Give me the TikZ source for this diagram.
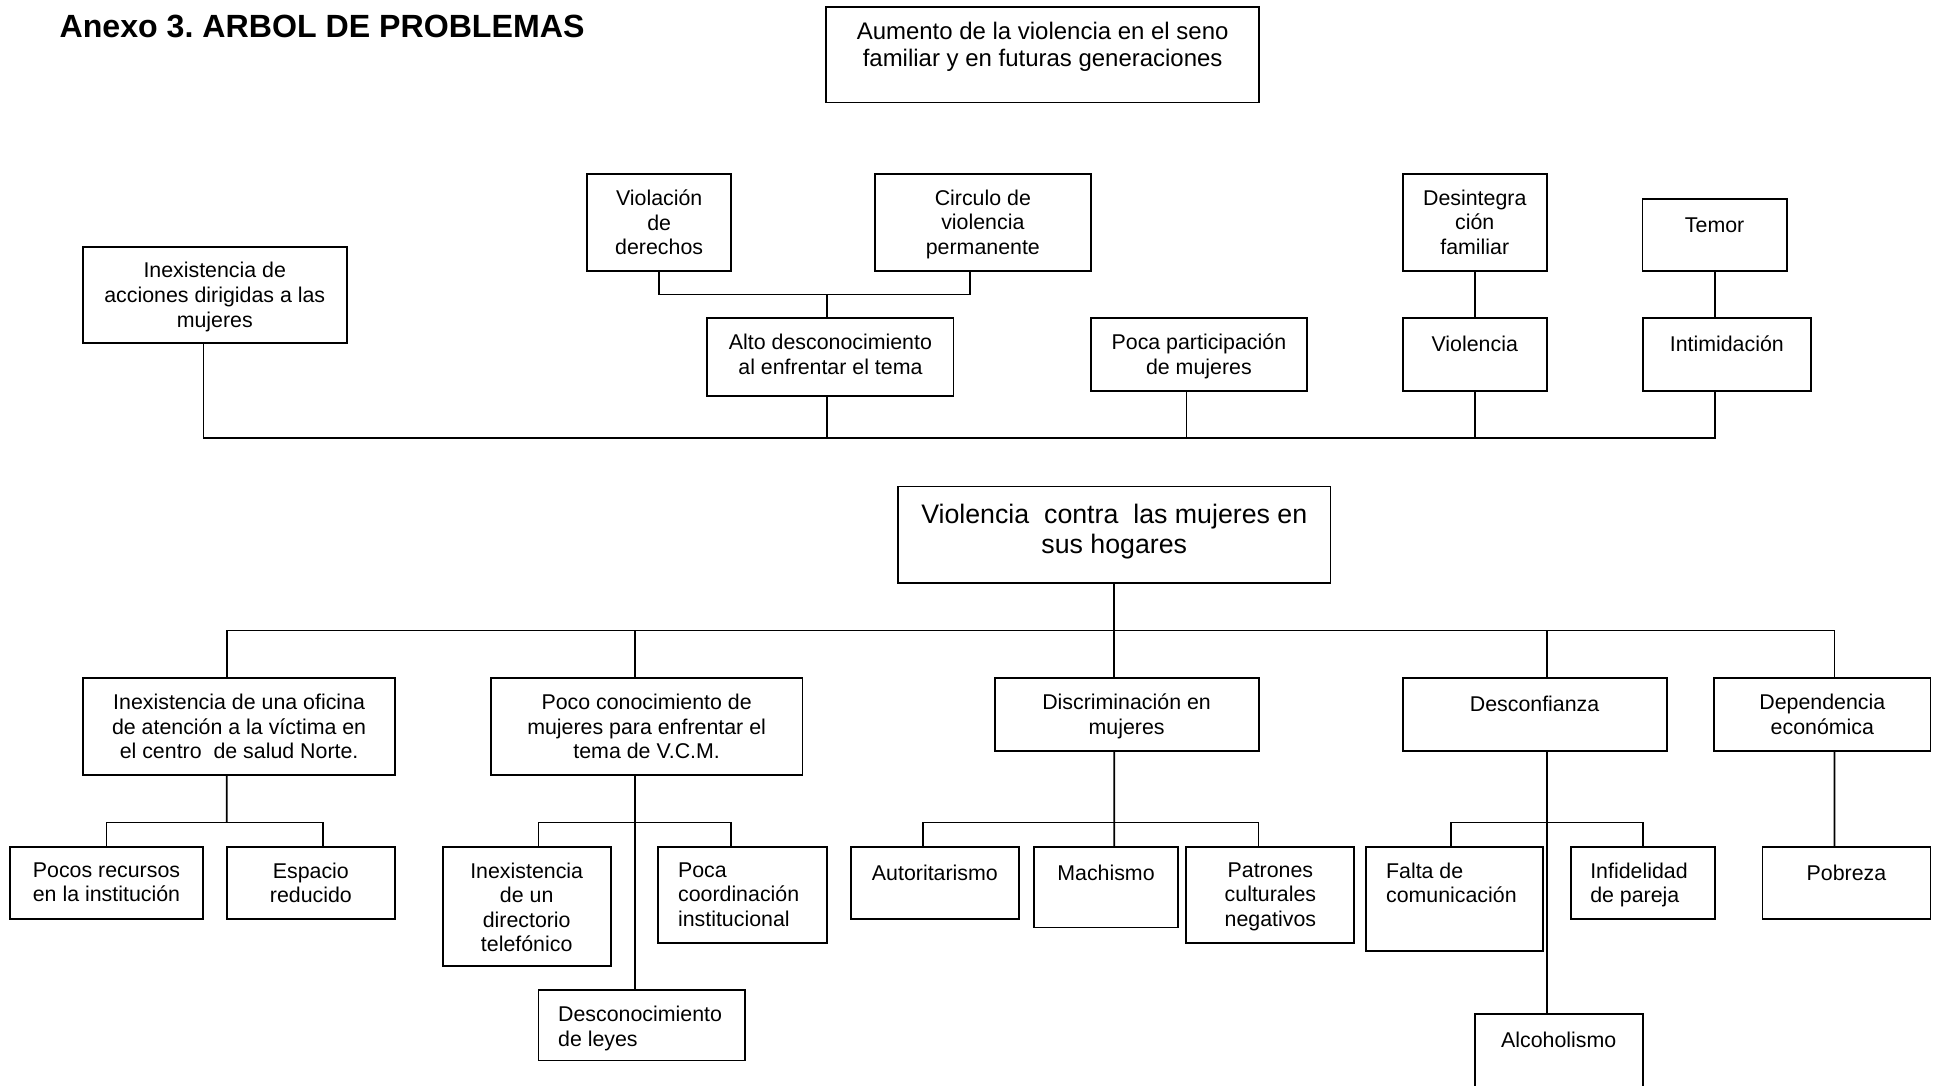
\documentclass[tikz,border=0pt]{standalone}
\usepackage{fontspec}
\setmainfont{Liberation Sans}
\frenchspacing
\tikzset{
  caja/.style={draw,rectangle,line width=1.1pt,inner sep=0pt},
  linea/.style={line width=1pt},
  textobase/.style={anchor=north,align=center,inner sep=0pt,execute at begin node={\rule{0pt}{0.83em}}},
  texto/.style={textobase,yshift=-0.33cm,font=\fontsize{12.3}{14.2}\selectfont},
  textoizq/.style={texto,anchor=north west,align=left,xshift=0.41cm},
  textomedio/.style={textobase,yshift=-0.324cm,font=\fontsize{13.8}{15.6}\selectfont},
  textogrande/.style={textobase,yshift=-0.365cm,font=\fontsize{15.4}{17.6}\selectfont},
}

\begin{document}
\begin{tikzpicture}
\useasboundingbox (0,0) rectangle (39.2,-21.975);
\clip (0,0) rectangle (39.2,-21.975);
\node[anchor=base west,inner sep=0pt,font=\fontsize{18.5}{21}\selectfont\bfseries] (titulo) at (1.2,-0.75) {Anexo 3. ARBOL DE PROBLEMAS};
% efectos
\node[caja,minimum width=8.75cm,minimum height=1.94cm] (aumento) at (21.1,-1.105) {};
\node[textomedio] (aumento-t) at (aumento.north) {Aumento de la violencia en el seno\\familiar y en futuras generaciones};
\node[caja,minimum width=2.92cm,minimum height=1.955cm] (violacion) at (13.34,-4.5) {};
\node[texto] (violacion-t) at (violacion.north) {Violación\\de\\derechos};
\node[caja,minimum width=4.37cm,minimum height=1.955cm] (circulo) at (19.89,-4.5) {};
\node[texto] (circulo-t) at (circulo.north) {Circulo de\\violencia\\permanente};
\node[caja,minimum width=2.92cm,minimum height=1.955cm] (desintegra) at (29.845,-4.5) {};
\node[texto] (desintegra-t) at (desintegra.north) {Desintegra\\ción\\familiar};
\node[caja,minimum width=2.92cm,minimum height=1.4575cm] (temor) at (34.70,-4.749) {};
\node[texto] (temor-t) at (temor.north) {Temor};
\node[caja,minimum width=5.34cm,minimum height=1.9425cm] (inexacc) at (4.346,-5.964) {};
\node[texto] (inexacc-t) at (inexacc.north) {Inexistencia de\\acciones dirigidas a las\\mujeres};
\node[caja,minimum width=4.98cm,minimum height=1.565cm] (alto) at (16.806,-7.225) {};
\node[texto] (alto-t) at (alto.north) {Alto desconocimiento\\al enfrentar el tema};
\node[caja,minimum width=4.375cm,minimum height=1.4625cm] (pocapart) at (24.2625,-7.174) {};
\node[texto] (pocapart-t) at (pocapart.north) {Poca participación\\de mujeres};
\node[caja,minimum width=2.92cm,minimum height=1.4625cm] (violencia) at (29.845,-7.174) {};
\node[texto] (violencia-t) at (violencia.north) {Violencia};
\node[caja,minimum width=3.4075cm,minimum height=1.4625cm] (intimida) at (34.946,-7.174) {};
\node[texto] (intimida-t) at (intimida.north) {Intimidación};
\coordinate (nudo1) at (16.73,-5.9575);
\coordinate (barra) at (4.1125,-8.87);
\draw[linea] (violacion.south) |- (nudo1);
\draw[linea] ([xshift=-0.26cm]circulo.south) |- (nudo1);
\draw[linea] (nudo1) -- (nudo1 |- alto.north);
\draw[linea] (desintegra) -- (violencia);
\draw[linea] (temor.south) -- (temor.south |- intimida.north);
\draw[linea] ([xshift=-0.23cm]inexacc.south) |- (barra);
\draw[linea] (nudo1 |- alto.south) |- (barra);
\draw[linea] ([xshift=-0.25cm]pocapart.south) |- (barra);
\draw[linea] (violencia.south) |- (barra);
\draw[linea] (temor.south |- intimida.south) |- (barra);
% problema central
\node[caja,minimum width=8.75cm,minimum height=1.9475cm] (vcm) at (22.55,-10.819) {};
\node[textogrande] (vcm-t) at (vcm.north) {Violencia\ \ contra\ \ las mujeres en\\sus hogares};
% causas
\node[caja,minimum width=6.3075cm,minimum height=1.945cm] (inexofi) at (4.839,-14.7025) {};
\node[texto] (inexofi-t) at (inexofi.north) {Inexistencia de una oficina\\de atención a la víctima en\\el centro\ \ de salud Norte.};
\node[caja,minimum width=6.3075cm,minimum height=1.945cm] (poco) at (13.086,-14.7025) {};
\node[texto] (poco-t) at (poco.north) {Poco conocimiento de\\mujeres para enfrentar el\\tema de V.C.M.};
\node[caja,minimum width=5.3425cm,minimum height=1.47cm] (discrim) at (22.799,-14.465) {};
\node[texto] (discrim-t) at (discrim.north) {Discriminación en\\mujeres};
\node[caja,minimum width=5.3425cm,minimum height=1.47cm] (desconf) at (31.056,-14.465) {};
\node[texto] (desconf-t) at (desconf.north) {Desconfianza};
\node[caja,minimum width=4.375cm,minimum height=1.47cm] (depend) at (36.88,-14.465) {};
\node[texto] (depend-t) at (depend.north) {Dependencia\\económica};
\coordinate (nudo2) at (22.55,-12.76);
\draw[linea] (vcm) -- (nudo2);
\draw[linea] ([xshift=-0.25cm]inexofi.north) |- (nudo2);
\draw[linea] ([xshift=-0.236cm]poco.north) |- (nudo2);
\draw[linea] ([xshift=-0.249cm]discrim.north) |- (nudo2);
\draw[linea] ([xshift=0.249cm]desconf.north) |- (nudo2);
\draw[linea] ([xshift=0.2475cm]depend.north) |- (nudo2);
% subcausas
\node[caja,minimum width=3.89cm,minimum height=1.4525cm] (pocos) at (2.155,-17.864) {};
\node[texto] (pocos-t) at (pocos.north) {Pocos recursos\\en la institución};
\node[caja,minimum width=3.4025cm,minimum height=1.4525cm] (espacio) at (6.291,-17.864) {};
\node[texto] (espacio-t) at (espacio.north) {Espacio\\reducido};
\node[caja,minimum width=3.4025cm,minimum height=2.42cm] (directorio) at (10.659,-18.3475) {};
\node[texto] (directorio-t) at (directorio.north) {Inexistencia\\de un\\directorio\\telefónico};
\node[caja,minimum width=3.4025cm,minimum height=1.9375cm] (coord) at (15.026,-18.106) {};
\node[textoizq] (coord-t) at (coord.north west) {Poca\\coordinación\\institucional};
\node[caja,minimum width=4.1825cm,minimum height=1.42cm] (leyes) at (12.989,-20.7525) {};
\node[textoizq] (leyes-t) at (leyes.north west) {Desconocimiento\\de leyes};
\node[caja,minimum width=3.405cm,minimum height=1.4525cm] (autor) at (18.92,-17.864) {};
\node[texto] (autor-t) at (autor.north) {Autoritarismo};
\node[caja,minimum width=2.93cm,minimum height=1.6325cm] (machismo) at (22.3825,-17.954) {};
\node[texto] (machismo-t) at (machismo.north) {Machismo};
\node[caja,minimum width=3.4cm,minimum height=1.9375cm] (patrones) at (25.71,-18.106) {};
\node[texto] (patrones-t) at (patrones.north) {Patrones\\culturales\\negativos};
\node[caja,minimum width=3.5725cm,minimum height=2.11cm] (falta) at (29.439,-18.1925) {};
\node[textoizq] (falta-t) at (falta.north west) {Falta de\\comunicación};
\node[caja,minimum width=2.92cm,minimum height=1.4525cm] (infidel) at (33.245,-17.864) {};
\node[textoizq] (infidel-t) at (infidel.north west) {Infidelidad\\de pareja};
\node[caja,minimum width=3.4cm,minimum height=1.98cm] (alcohol) at (31.545,-21.51) {};
\node[texto] (alcohol-t) at (alcohol.north) {Alcoholismo};
\node[caja,minimum width=3.4cm,minimum height=1.4525cm] (pobreza) at (37.3675,-17.864) {};
\node[texto] (pobreza-t) at (pobreza.north) {Pobreza};
\coordinate (nudo3) at (4.59,-16.645);
\coordinate (nudo4) at (12.85,-16.645);
\coordinate (nudo5) at (22.55,-16.645);
\coordinate (nudo6) at (31.305,-16.645);
\draw[linea] ([xshift=-0.25cm]inexofi.south) -- (nudo3);
\draw[linea] (pocos.north) |- (nudo3);
\draw[linea] ([xshift=0.24cm]espacio.north) |- (nudo3);
\draw[linea] ([xshift=-0.236cm]poco.south) -- ([xshift=-0.139cm]leyes.north);
\draw[linea] ([xshift=0.24cm]directorio.north) |- (nudo4);
\draw[linea] ([xshift=-0.24cm]coord.north) |- (nudo4);
\draw[linea] ([xshift=-0.249cm]discrim.south) -- ([xshift=0.1675cm]machismo.north);
\draw[linea] ([xshift=-0.24cm]autor.north) |- (nudo5);
\draw[linea] ([xshift=-0.24cm]patrones.north) |- (nudo5);
\draw[linea] ([xshift=0.249cm]desconf.south) -- ([xshift=-0.24cm]alcohol.north);
\draw[linea] ([xshift=-0.08cm]falta.north) |- (nudo6);
\draw[linea] (infidel.north) |- (nudo6);
\draw[linea] ([xshift=0.2475cm]depend.south) -- ([xshift=-0.24cm]pobreza.north);
\end{tikzpicture}
\end{document}
